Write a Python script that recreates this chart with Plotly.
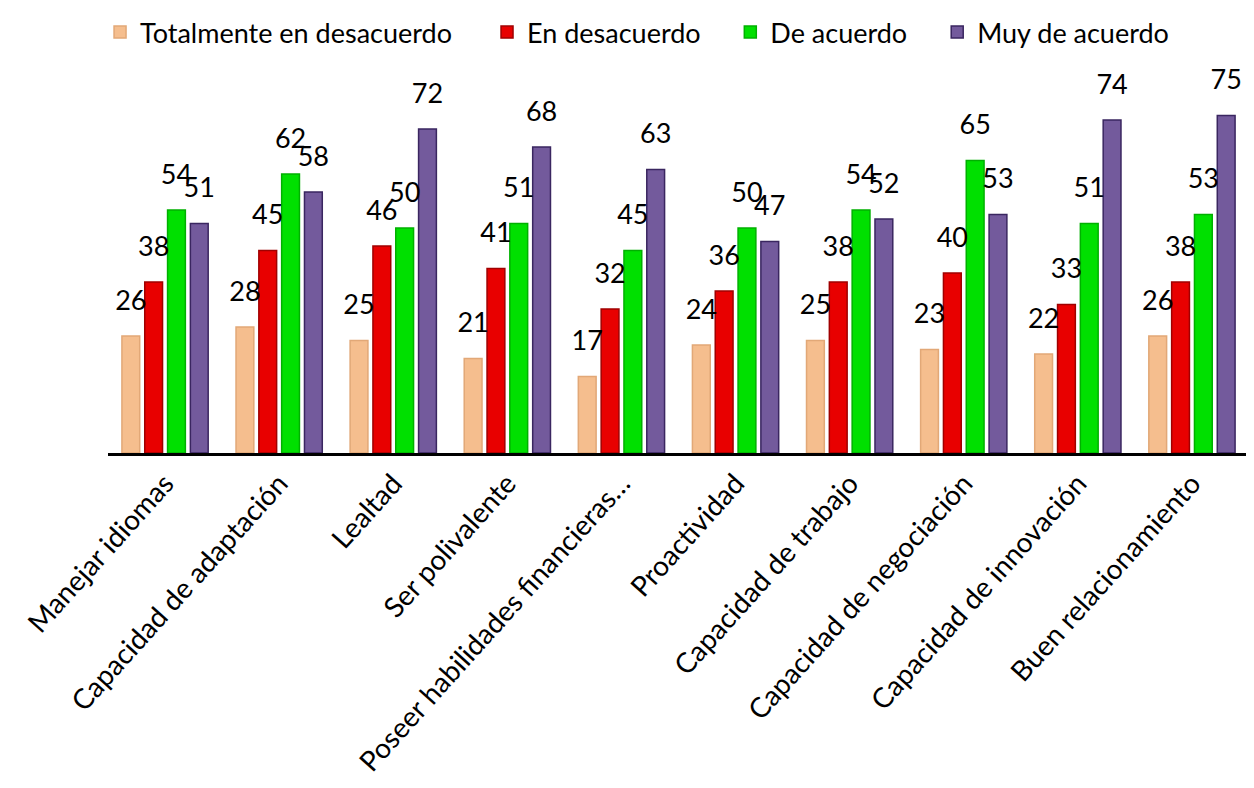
import plotly.graph_objects as go

categories = ["Manejar idiomas", "Capacidad de adaptación", "Lealtad", "Ser polivalente",
              "Poseer habilidades financieras…", "Proactividad", "Capacidad de trabajo",
              "Capacidad de negociación", "Capacidad de innovación", "Buen relacionamiento"]
series_names = ["Totalmente en desacuerdo", "En desacuerdo", "De acuerdo", "Muy de acuerdo"]
totalmente = [26, 28, 25, 21, 17, 24, 25, 23, 22, 26]
desacuerdo = [38, 45, 46, 41, 32, 36, 38, 40, 33, 38]
acuerdo = [54, 62, 50, 51, 45, 50, 54, 65, 51, 53]
muy_acuerdo = [51, 58, 72, 68, 63, 47, 52, 53, 74, 75]

values = [totalmente, desacuerdo, acuerdo, muy_acuerdo]
colors = ["#F5BE8E", "#E80000", "#00E000", "#735A9C"]
edges = ["#E2A877", "#A00000", "#00B000", "#3A2660"]
legend_ids = ["legend", "legend2", "legend3", "legend4"]
legend_x = [0.0734, 0.382, 0.576, 0.741]

FONT = "Lato, Open Sans, sans-serif"

fig = go.Figure()
for i, (name, vals, c, e) in enumerate(zip(series_names, values, colors, edges)):
    fig.add_trace(go.Bar(
        x=categories, y=vals, name=name,
        marker=dict(color=c, line=dict(color=e, width=1.5)),
        offsetgroup=str(i), legend=legend_ids[i],
    ))
for i, vals in enumerate(values):
    fig.add_trace(go.Scatter(
        x=categories, y=vals, mode="markers+text",
        text=[str(v) for v in vals], textposition="top center",
        marker=dict(size=30, opacity=0), offsetgroup=str(i),
        textfont=dict(size=27, color="black", family=FONT),
        showlegend=False, hoverinfo="skip", cliponaxis=False,
    ))

layout_legends = {}
for lid, lx in zip(legend_ids, legend_x):
    layout_legends[lid] = dict(orientation="h", x=lx, xanchor="left", xref="container",
                               y=1.0, yanchor="top", yref="container",
                               font=dict(size=27, family=FONT, color="black"))

fig.update_layout(
    width=1254, height=788,
    barmode="group", bargap=0.20, bargroupgap=0.22,
    scattermode="group", scattergap=0.20,
    plot_bgcolor="white", paper_bgcolor="white",
    margin=dict(l=89, r=13, t=85, b=343),
    font=dict(family=FONT, size=27, color="black"),
    xaxis=dict(showline=True, linecolor="black", linewidth=3, tickangle=-48,
               tickfont=dict(size=28, family=FONT), ticks="", showgrid=False),
    yaxis=dict(range=[0, 80], visible=False, showgrid=False),
    **layout_legends,
)

fig.write_html("out.html")
